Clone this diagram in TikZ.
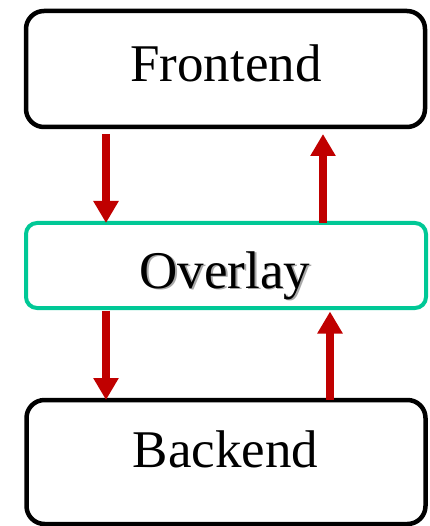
\documentclass[tikz,border=0pt]{standalone}
\usepackage{fontspec}
\setmainfont{Liberation Serif}
\usetikzlibrary{arrows.meta}
\definecolor{flowred}{HTML}{C00000}
\definecolor{overlaygreen}{HTML}{00C896}
\definecolor{shadowgray}{HTML}{A8A8A8}
\tikzset{
  layerbox/.style={draw=black, line width=4.5pt, rounded corners=18pt, fill=white,
    outer sep=0pt, inner sep=0pt},
  overlaybox/.style={draw=overlaygreen, line width=4pt, rounded corners=11pt, fill=white,
    outer sep=0pt, inner sep=0pt},
  label/.style={inner sep=0pt, anchor=base, font=\fontsize{53}{60}\selectfont},
  flow/.style={draw=flowred, line width=8pt,
    -{Triangle[width=24pt,length=22pt]}},
}
% text with a soft gray drop shadow behind it
\newcommand{\shadowtext}[1]{\rlap{\kern1.6pt\raisebox{-1.6pt}{\color{shadowgray}#1}}#1}
\begin{document}
\begin{tikzpicture}[x=1pt,y=-1pt]
  \useasboundingbox (0,0) rectangle (429,526);
  % the three layers
  \node[layerbox, minimum width=399pt, minimum height=116pt] (front) at (225.5,69) {};
  \node[overlaybox, minimum width=400pt, minimum height=85pt] (over) at (226,265.5) {};
  \node[layerbox, minimum width=399pt, minimum height=124pt] (back) at (226,462) {};
  % labels
  \node[label] (frontlabel) at (226,82) {Frontend};
  \node[label] (overlabel) at (225,288) {\shadowtext{Overlay}};
  \node[label] (backlabel) at (225.5,467) {Backend};
  % requests going down, responses coming back up
  \draw[flow] ([xshift=-119.5pt,yshift=-7pt]front.south) -- ([xshift=-120pt]over.north);
  \draw[flow] ([xshift=97pt]over.north) -- ([xshift=97.5pt,yshift=-7pt]front.south);
  \draw[flow] ([xshift=-120pt,yshift=-2.5pt]over.south) -- ([xshift=-120pt]back.north);
  \draw[flow] ([xshift=104pt]back.north) -- ([xshift=104pt,yshift=-3.5pt]over.south);
\end{tikzpicture}
\end{document}
